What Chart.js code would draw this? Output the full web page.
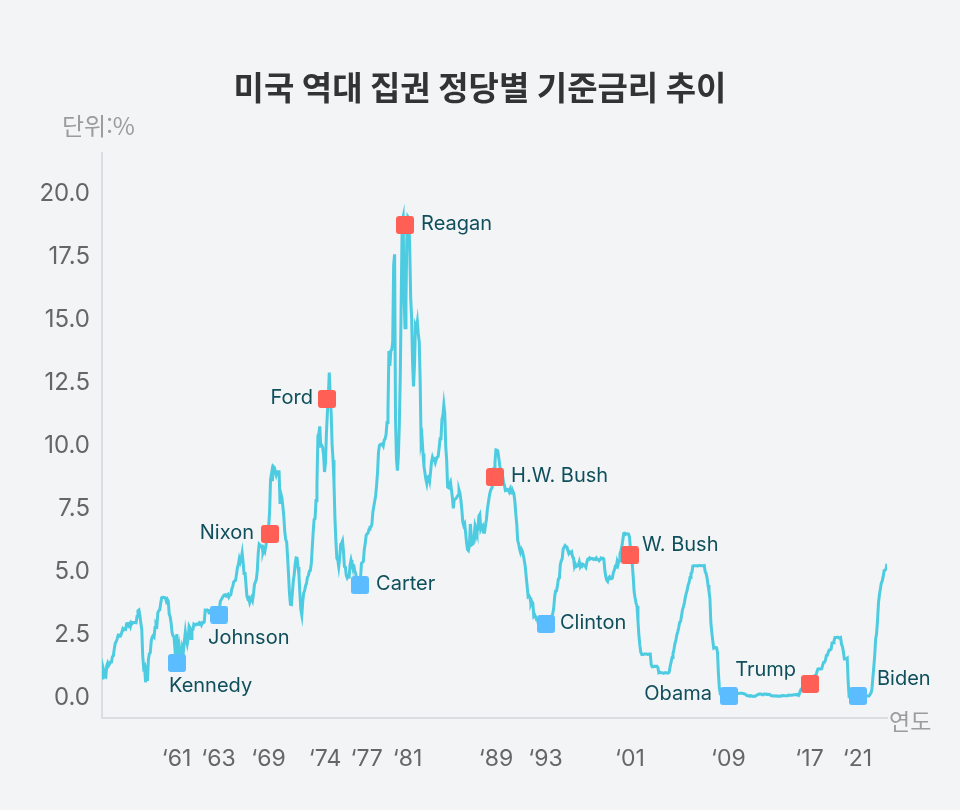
<!DOCTYPE html>
<html lang="ko">
<head>
<meta charset="utf-8">
<script src="https://cdn.jsdelivr.net/npm/chart.js@4"></script>
<style>
  html, body { margin: 0; padding: 0; background: #f2f4f6; }
  #wrap { width: 960px; height: 810px; }
</style>
</head>
<body>
<div id="wrap"><canvas id="rate-chart"></canvas></div>
<script>
// 월별 기준금리 (1954년 7월 ~ 2023년 8월)
const startYear = 1954;
const startMonth = 6; // 0 = 1월
const rates = [
  0.80, 1.22, 1.07, 0.85, 0.83, 1.28,                               // 1954 (7~12월)
  1.39, 1.29, 1.35, 1.43, 1.43, 1.64, 1.68, 1.96, 2.18, 2.24, 2.35, 2.48, // 1955
  2.45, 2.50, 2.50, 2.62, 2.75, 2.71, 2.75, 2.73, 2.95, 2.96, 2.88, 2.94,
  2.84, 3.00, 2.96, 3.00, 3.00, 3.00, 2.99, 3.24, 3.47, 3.50, 3.28, 2.98,
  2.72, 1.67, 1.20, 1.26, 0.63, 0.93, 0.68, 1.53, 1.76, 1.80, 2.27, 2.42,
  2.48, 2.43, 2.80, 2.96, 2.90, 3.39, 3.47, 3.50, 3.76, 3.98, 4.00, 3.99,
  3.99, 3.97, 3.84, 3.92, 3.85, 3.32, 3.23, 2.98, 2.60, 2.47, 2.44, 1.98, // 1960
  1.45, 2.54, 2.02, 1.49, 1.98, 1.73, 1.17, 2.00, 1.88, 2.26, 2.62, 2.33,
  2.15, 2.37, 2.85, 2.78, 2.36, 2.68, 2.71, 2.93, 2.90, 2.90, 2.94, 2.93,
  2.92, 3.00, 2.98, 2.90, 3.00, 2.99, 3.02, 3.49, 3.48, 3.50, 3.48, 3.38,
  3.48, 3.48, 3.43, 3.47, 3.50, 3.50, 3.42, 3.50, 3.45, 3.36, 3.52, 3.85,
  3.90, 3.98, 4.04, 4.09, 4.10, 4.04, 4.09, 4.12, 4.01, 4.08, 4.10, 4.32,
  4.42, 4.60, 4.65, 4.67, 4.90, 5.17, 5.30, 5.53, 5.40, 5.53, 5.76, 5.40,
  4.94, 5.00, 4.53, 4.05, 3.94, 3.98, 3.79, 3.90, 3.99, 3.88, 4.13, 4.51,
  4.61, 4.71, 5.05, 5.76, 6.11, 6.07, 6.02, 6.03, 5.78, 5.91, 5.82, 6.02,
  6.30, 6.61, 6.79, 7.41, 8.67, 8.90, 8.61, 9.19, 9.15, 9.00, 8.85, 8.97,
  8.98, 8.98, 7.76, 8.10, 7.95, 7.61, 7.21, 6.61, 6.29, 6.20, 5.60, 4.90, // 1970
  4.14, 3.72, 3.71, 4.16, 4.63, 4.91, 5.31, 5.56, 5.55, 5.20, 4.91, 4.14,
  3.50, 3.29, 3.83, 4.17, 4.27, 4.46, 4.55, 4.80, 4.87, 5.04, 5.06, 5.33,
  5.94, 6.58, 7.09, 7.12, 7.84, 8.49, 10.40, 10.50, 10.78, 10.01, 10.03, 9.95,
  9.65, 8.97, 9.35, 10.51, 11.31, 11.93, 12.92, 12.01, 11.34, 10.06, 9.45, 8.53,
  7.13, 6.24, 5.54, 5.49, 5.22, 5.55, 6.10, 6.14, 6.24, 5.82, 5.22, 5.20,
  4.87, 4.77, 4.84, 4.82, 5.29, 5.48, 5.31, 5.29, 5.25, 5.02, 4.95, 4.65,
  4.61, 4.68, 4.69, 4.73, 5.35, 5.39, 5.42, 5.90, 6.14, 6.47, 6.51, 6.56,
  6.70, 6.78, 6.79, 6.89, 7.36, 7.60, 7.81, 8.04, 8.45, 8.96, 9.76, 10.03,
  10.07, 10.06, 10.09, 10.01, 10.24, 10.29, 10.47, 10.94, 11.43, 13.77, 13.18, 13.78,
  13.82, 14.13, 17.19, 17.61, 10.98, 9.47, 9.03, 9.61, 10.87, 12.81, 15.85, 18.90, // 1980
  19.08, 15.93, 14.70, 15.72, 18.52, 19.10, 19.04, 17.82, 15.87, 15.08, 13.31, 12.37,
  13.22, 14.78, 14.68, 14.94, 14.45, 14.15, 12.59, 10.12, 10.31, 9.71, 9.20, 8.95,
  8.68, 8.51, 8.77, 8.80, 8.63, 8.98, 9.37, 9.56, 9.45, 9.48, 9.34, 9.47,
  9.56, 9.59, 9.91, 10.29, 10.32, 11.06, 11.23, 11.64, 11.30, 9.99, 9.43, 8.38,
  8.35, 8.50, 8.58, 8.27, 7.97, 7.53, 7.88, 7.90, 7.92, 7.99, 8.05, 8.27,
  8.14, 7.86, 7.48, 6.99, 6.85, 6.92, 6.56, 6.17, 5.89, 5.85, 6.04, 6.91,
  6.43, 6.10, 6.13, 6.37, 6.85, 6.73, 6.58, 6.73, 7.22, 7.29, 6.69, 6.77,
  6.83, 6.58, 6.58, 6.87, 7.09, 7.51, 7.75, 8.01, 8.19, 8.30, 8.35, 8.76,
  9.12, 9.36, 9.85, 9.84, 9.81, 9.53, 9.24, 8.99, 9.02, 8.84, 8.55, 8.45,
  8.23, 8.24, 8.28, 8.26, 8.18, 8.29, 8.15, 8.13, 8.20, 8.11, 7.81, 7.31, // 1990
  6.91, 6.25, 6.12, 5.91, 5.78, 5.90, 5.82, 5.66, 5.45, 5.21, 4.81, 4.43,
  4.03, 4.06, 3.98, 3.73, 3.82, 3.76, 3.25, 3.30, 3.22, 3.10, 3.09, 2.92,
  3.02, 3.03, 3.07, 2.96, 3.00, 3.04, 3.06, 3.03, 3.09, 2.99, 3.02, 2.96,
  3.05, 3.25, 3.34, 3.56, 4.01, 4.25, 4.26, 4.47, 4.73, 4.76, 5.29, 5.45,
  5.53, 5.92, 5.98, 6.05, 6.01, 6.00, 5.85, 5.74, 5.80, 5.76, 5.80, 5.60,
  5.56, 5.22, 5.31, 5.22, 5.24, 5.27, 5.40, 5.22, 5.30, 5.24, 5.31, 5.29,
  5.25, 5.19, 5.39, 5.51, 5.50, 5.56, 5.52, 5.54, 5.54, 5.50, 5.52, 5.50,
  5.56, 5.51, 5.49, 5.45, 5.49, 5.56, 5.54, 5.55, 5.51, 5.07, 4.83, 4.68,
  4.63, 4.76, 4.81, 4.74, 4.74, 4.76, 4.99, 5.07, 5.22, 5.20, 5.42, 5.30,
  5.45, 5.73, 5.85, 6.02, 6.27, 6.53, 6.54, 6.50, 6.52, 6.51, 6.51, 6.40, // 2000
  5.98, 5.49, 5.31, 4.80, 4.21, 3.97, 3.77, 3.65, 3.07, 2.49, 2.09, 1.82,
  1.73, 1.74, 1.73, 1.75, 1.75, 1.75, 1.73, 1.74, 1.75, 1.75, 1.34, 1.24,
  1.24, 1.26, 1.25, 1.26, 1.26, 1.22, 1.01, 1.03, 1.01, 1.01, 1.00, 0.98,
  1.00, 1.01, 1.00, 1.00, 1.00, 1.03, 1.26, 1.43, 1.61, 1.76, 1.93, 2.16,
  2.28, 2.50, 2.63, 2.79, 3.00, 3.04, 3.26, 3.50, 3.62, 3.78, 4.00, 4.16,
  4.29, 4.49, 4.59, 4.79, 4.94, 4.99, 5.24, 5.25, 5.25, 5.25, 5.25, 5.24,
  5.25, 5.26, 5.26, 5.25, 5.25, 5.25, 5.26, 5.02, 4.94, 4.76, 4.49, 4.24,
  3.94, 2.98, 2.61, 2.28, 1.98, 2.00, 2.01, 2.00, 1.81, 0.97, 0.39, 0.16,
  0.15, 0.22, 0.18, 0.15, 0.18, 0.21, 0.16, 0.16, 0.15, 0.12, 0.12, 0.12,
  0.11, 0.13, 0.16, 0.20, 0.20, 0.18, 0.18, 0.19, 0.19, 0.19, 0.19, 0.18, // 2010
  0.17, 0.16, 0.14, 0.10, 0.09, 0.09, 0.07, 0.10, 0.08, 0.07, 0.08, 0.07,
  0.08, 0.10, 0.13, 0.14, 0.16, 0.16, 0.16, 0.13, 0.14, 0.16, 0.16, 0.16,
  0.14, 0.15, 0.14, 0.15, 0.11, 0.09, 0.09, 0.08, 0.08, 0.09, 0.08, 0.09,
  0.07, 0.07, 0.08, 0.09, 0.09, 0.10, 0.09, 0.09, 0.09, 0.09, 0.09, 0.12,
  0.11, 0.11, 0.11, 0.12, 0.12, 0.13, 0.13, 0.14, 0.14, 0.12, 0.12, 0.24,
  0.34, 0.38, 0.36, 0.37, 0.37, 0.38, 0.39, 0.40, 0.40, 0.40, 0.41, 0.54,
  0.65, 0.66, 0.79, 0.90, 0.91, 1.04, 1.15, 1.16, 1.15, 1.15, 1.16, 1.30,
  1.41, 1.42, 1.51, 1.69, 1.70, 1.82, 1.91, 1.91, 1.95, 2.19, 2.20, 2.27,
  2.40, 2.40, 2.41, 2.42, 2.39, 2.38, 2.40, 2.13, 2.04, 1.83, 1.55, 1.55,
  1.55, 1.58, 0.65, 0.05, 0.05, 0.08, 0.09, 0.10, 0.09, 0.09, 0.09, 0.09, // 2020
  0.09, 0.08, 0.07, 0.07, 0.06, 0.08, 0.10, 0.09, 0.08, 0.08, 0.08, 0.08,
  0.08, 0.08, 0.20, 0.33, 0.77, 1.21, 1.68, 2.33, 2.56, 3.08, 3.78, 4.10,
  4.33, 4.57, 4.65, 4.83, 5.06, 5.08, 5.12, 5.33                      // 2023 (1~8월)
];

// 대통령 표시 (그림에서 읽은 위치: 연도, 금리)
const presidents = ['Kennedy', 'Johnson', 'Nixon', 'Ford', 'Carter', 'Reagan',
  'H.W. Bush', 'Clinton', 'W. Bush', 'Obama', 'Trump', 'Biden'];
const parties = ['D', 'D', 'R', 'R', 'D', 'R', 'R', 'D', 'R', 'D', 'R', 'D'];
const markerYears = [1961.10, 1964.80, 1969.28, 1974.30, 1977.21, 1981.17,
  1989.09, 1993.57, 2000.97, 2009.68, 2016.81, 2021.03];
const markerRates = [1.39, 3.31, 6.51, 11.87, 4.48, 18.77, 8.77, 2.94, 5.67, 0.08, 0.56, 0.08];

// x축 눈금
const tickYears = [1961.07, 1964.75, 1969.15, 1974.13, 1977.79, 1981.39,
  1989.17, 1993.53, 2000.97, 2009.63, 2016.76, 2020.99];
const tickLabels = ['‘61', '‘63', '‘69', '‘74', '‘77', '‘81', '‘89', '‘93', '‘01', '‘09', '‘17', '‘21'];
const yTicks = [0, 2.5, 5, 7.5, 10, 12.5, 15, 17.5, 20];

// 라벨 위치 (마커 기준)
const labelPlace = [
  { dx: -8, dy: 23, align: 'left' },
  { dx: -11, dy: 23, align: 'left' },
  { dx: -16, dy: -1, align: 'right' },
  { dx: -14, dy: -1, align: 'right' },
  { dx: 16, dy: -1, align: 'left' },
  { dx: 16, dy: -1, align: 'left' },
  { dx: 16, dy: -1, align: 'left' },
  { dx: 14, dy: -1, align: 'left' },
  { dx: 12, dy: -10, align: 'left' },
  { dx: -17, dy: -2, align: 'right' },
  { dx: -14, dy: -14, align: 'right' },
  { dx: 19, dy: -17, align: 'left' }
];

const LINE = '#4ccbe1';
const RED = '#ff5f55';
const BLUE = '#5bbcff';
const LABEL = '#0f4f5b';
const LATIN = "Inter, 'Noto Sans CJK KR', sans-serif";
const KOREAN = "'Noto Sans CJK KR', Inter, sans-serif";

const firstX = startYear + startMonth / 12;
const points = rates.map((v, i) => ({ x: firstX + i / 12, y: v }));
const lastX = points[points.length - 1].x;
const markerPoints = markerYears.map((t, i) => ({ x: t, y: markerRates[i] }));

function squareIcon(color) {
  const c = document.createElement('canvas');
  c.width = 18; c.height = 18;
  const g = c.getContext('2d');
  g.fillStyle = color;
  g.beginPath();
  g.roundRect(0, 0, 18, 18, 3);
  g.fill();
  return c;
}
const redIcon = squareIcon(RED);
const blueIcon = squareIcon(BLUE);

const extraText = {
  id: 'extraText',
  afterDraw(chart) {
    const { ctx, chartArea } = chart;
    ctx.save();
    ctx.textBaseline = 'middle';
    ctx.fillStyle = '#9c9c9c';
    ctx.textAlign = 'left';
    ctx.font = "24px " + KOREAN;
    ctx.fillText('단위:%', 62, 126);
    ctx.font = "23px " + KOREAN;
    ctx.fillText('연도', chartArea.right + 2, chartArea.bottom + 3);
    ctx.restore();
  },
  afterDatasetsDraw(chart) {
    const { ctx } = chart;
    const meta = chart.getDatasetMeta(1);
    ctx.save();
    ctx.font = "20px " + LATIN;
    ctx.fillStyle = LABEL;
    ctx.textBaseline = 'middle';
    meta.data.forEach((el, i) => {
      const p = labelPlace[i];
      ctx.textAlign = p.align;
      ctx.fillText(presidents[i], el.x + p.dx, el.y + p.dy);
    });
    ctx.restore();
  }
};

new Chart(
  document.getElementById('rate-chart'),
  {
    type: 'line',
    data: {
      datasets: [
        {
          label: '기준금리',
          data: points,
          borderColor: LINE,
          borderWidth: 3,
          pointRadius: 0,
          tension: 0,
          order: 1
        },
        {
          label: '취임',
          type: 'scatter',
          data: markerPoints,
          pointStyle: ctx => parties[ctx.dataIndex] === 'R' ? redIcon : blueIcon,
          pointRadius: 9,
          order: 0
        }
      ]
    },
    options: {
      responsive: true,
      maintainAspectRatio: false,
      animation: false,
      layout: { padding: 0 },
      plugins: {
        legend: { display: false },
        tooltip: { enabled: false },
        title: {
          display: true,
          text: '미국 역대 집권 정당별 기준금리 추이',
          color: '#333333',
          font: { family: KOREAN, size: 33, weight: 'bold', lineHeight: '40px' },
          padding: { top: 67, bottom: 46 }
        }
      },
      scales: {
        x: {
          type: 'linear',
          min: firstX,
          max: lastX,
          grid: { display: false, drawTicks: false },
          border: { display: true, color: '#dcdde0', width: 2 },
          afterBuildTicks: scale => { scale.ticks = tickYears.map(v => ({ value: v })); },
          afterFit: scale => { scale.height = 92; },
          ticks: {
            autoSkip: false,
            maxRotation: 0,
            padding: 27,
            color: '#666666',
            font: { family: LATIN, size: 23 },
            callback: (v, i) => tickLabels[i]
          }
        },
        y: {
          min: -0.79,
          max: 21.63,
          grid: { display: false, drawTicks: false },
          border: { display: true, color: '#dcdde0', width: 2 },
          afterBuildTicks: scale => { scale.ticks = yTicks.map(v => ({ value: v })); },
          afterFit: scale => { scale.width = 102; },
          ticks: {
            padding: 12,
            color: '#666666',
            font: { family: LATIN, size: 24 },
            callback: v => Number(v).toFixed(1)
          }
        },
        // 오른쪽 여백용 빈 축
        side: {
          axis: 'y',
          position: 'right',
          grid: { display: false, drawTicks: false },
          border: { display: false },
          ticks: { display: false },
          afterFit: scale => { scale.width = 73; }
        }
      }
    },
    plugins: [extraText]
  }
);
</script>
</body>
</html>
